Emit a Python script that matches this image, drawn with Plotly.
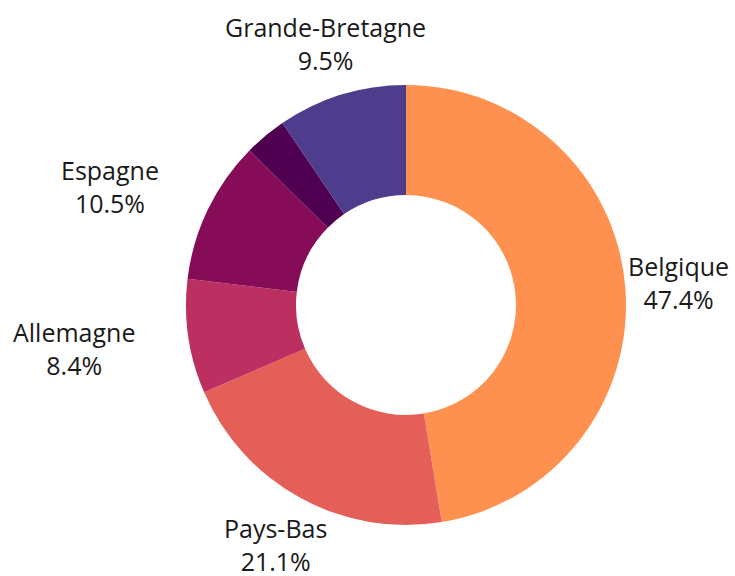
import math
import plotly.graph_objects as go

labels = ["Belgique", "Pays-Bas", "Allemagne", "Espagne", "Autres", "Grande-Bretagne"]
values = [47.4, 21.1, 8.4, 10.5, 3.1, 9.5]
colors = ["#fe914f", "#e35f57", "#bb3060", "#870c58", "#4f0050", "#4e3c8c"]
show_label = [True, True, True, True, False, True]
# label placement (layout choice): radial distance in px and angular nudge in degrees
label_dist = [273, 273, 335, 319, 0, 274]
label_rot = [0.0, 0.0, -0.9, 4.0, 0.0, 0.0]

W, H = 735, 576
cx, cy, r = 406, 305, 220

fig = go.Figure(go.Pie(
    labels=labels,
    values=values,
    textinfo="none",
    hole=0.5,
    sort=False,
    direction="clockwise",
    rotation=0,
    marker=dict(colors=colors, line=dict(width=0)),
    showlegend=False,
    domain=dict(x=[(cx - r) / W, (cx + r) / W], y=[(H - cy - r) / H, (H - cy + r) / H]),
))

total = sum(values)
cum = 0.0
for lab, v, s, d, rot in zip(labels, values, show_label, label_dist, label_rot):
    mid = cum + v / 2
    cum += v
    if not s:
        continue
    theta = math.radians(90 - 360 * mid / total + rot)
    px = cx + d * math.cos(theta)
    py = cy - d * math.sin(theta)
    fig.add_annotation(
        x=px / W, y=1 - py / H, xref="paper", yref="paper",
        text=f"{lab}<br>{v / total * 100:.1f}%",
        showarrow=False, xanchor="center", yanchor="middle", align="center",
        font=dict(family="Open Sans", size=25, color="#1a1a1a"),
    )

fig.update_layout(
    width=W, height=H,
    margin=dict(l=0, r=0, t=0, b=0),
    paper_bgcolor="white",
    plot_bgcolor="white",
)
fig.write_html("out.html", config={"displayModeBar": False},
               post_script="document.body.style.margin='0';")
